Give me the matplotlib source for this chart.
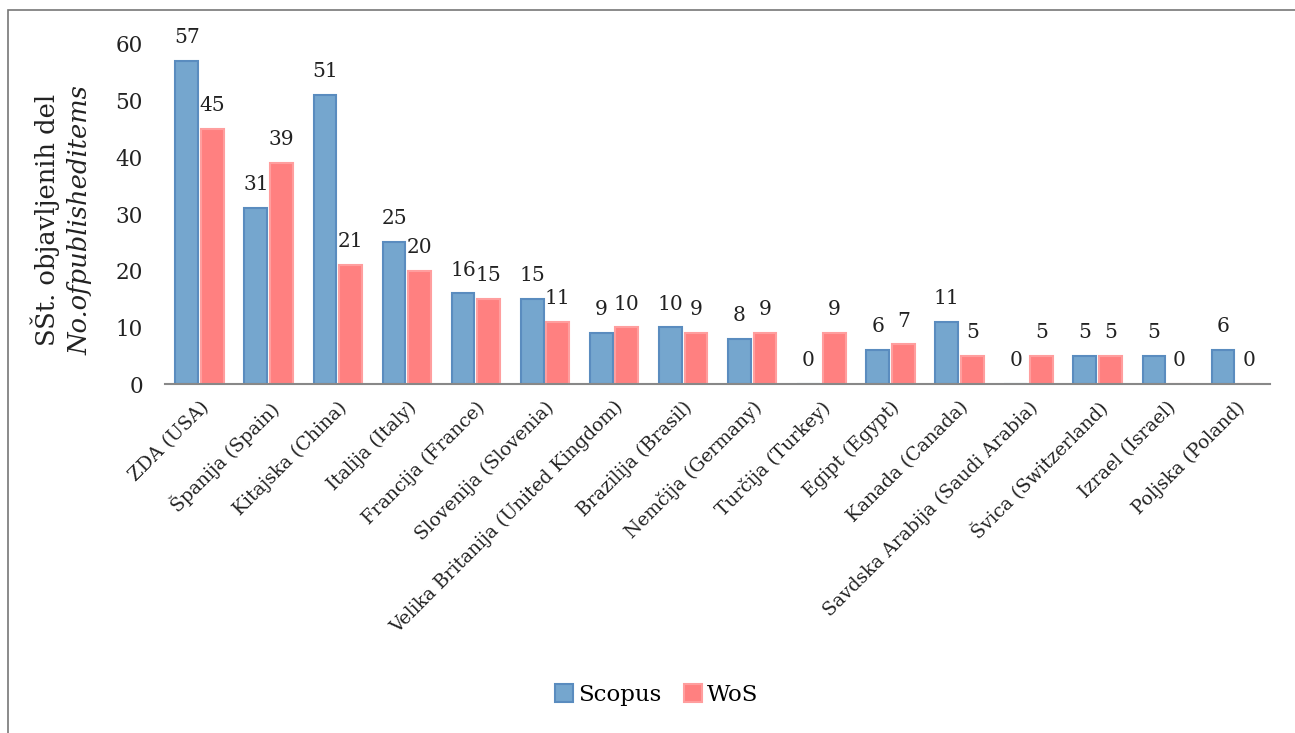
import matplotlib
matplotlib.use("Agg")
import matplotlib.pyplot as plt
import numpy as np
from matplotlib.patches import Rectangle

categories = ["ZDA (USA)", "Španija (Spain)", "Kitajska (China)", "Italija (Italy)",
              "Francija (France)", "Slovenija (Slovenia)", "Velika Britanija (United Kingdom)",
              "Brazilija (Brasil)", "Nemčija (Germany)", "Turčija (Turkey)", "Egipt (Egypt)",
              "Kanada (Canada)", "Savdska Arabija (Saudi Arabia)", "Švica (Switzerland)",
              "Izrael (Israel)", "Poljska (Poland)"]
scopus = [57, 31, 51, 25, 16, 15, 9, 10, 8, 0, 6, 11, 0, 5, 5, 6]
wos = [45, 39, 21, 20, 15, 11, 10, 9, 9, 9, 7, 5, 5, 5, 0, 0]
yticks = [0, 10, 20, 30, 40, 50, 60]

plt.rcParams['font.family'] = ['DejaVu Serif']
fig = plt.figure(figsize=(12.95, 7.33), dpi=100)
ax = fig.add_axes([0.1274, 0.476, 0.8536, 0.464])

x = np.arange(len(categories))
w = 0.33
off = 0.185
b1 = ax.bar(x - off, scopus, w, color='#75A6CE', edgecolor='#5A8CBF', linewidth=1.5, label='Scopus')
b2 = ax.bar(x + off, wos, w, color='#FF8080', edgecolor='#FF9E9E', linewidth=1.5, label='WoS')

for xi, v in zip(x, scopus):
    ax.annotate(str(v), (xi - off, v), xytext=(0, 10), textcoords='offset points',
                ha='center', va='bottom', fontsize=14.5, color='#222222')
for xi, v in zip(x, wos):
    ax.annotate(str(v), (xi + off, v), xytext=(0, 10), textcoords='offset points',
                ha='center', va='bottom', fontsize=14.5, color='#222222')

ax.set_xlim(-0.5, len(categories) - 0.5)
ax.set_ylim(0, 60)
ax.set_yticks(yticks)
ax.set_yticklabels([str(t) for t in yticks], fontsize=15.5, color='#222222')
ax.set_xticks(x)
ax.set_xticklabels(categories, rotation=45, ha='right', rotation_mode='anchor',
                   fontsize=13.5, color='#222222')
ax.tick_params(axis='y', length=0, pad=16)
ax.tick_params(axis='x', length=0, pad=10)
for s in ['top', 'right', 'left']:
    ax.spines[s].set_visible(False)
ax.spines['bottom'].set_color('#888888')
ax.spines['bottom'].set_linewidth(1.5)

fig.text(0.035, 0.70, "SŠt. objavljenih del", rotation=90, ha='center', va='center',
         fontsize=18.5, color='#222222')
fig.text(0.062, 0.70, "No.ofpublisheditems", rotation=90, ha='center', va='center',
         fontsize=18.5, style='italic', color='#222222')

leg = fig.legend(handles=[b1, b2], loc='center', bbox_to_anchor=(0.507, 0.052), ncol=2,
                 frameon=False, fontsize=16.5, handlelength=0.8, handleheight=0.8,
                 handletextpad=0.2, columnspacing=1.0)

fig.patches.append(Rectangle((8 / 1295, -0.01), 1.2, 1 - 10 / 733 + 0.01,
                             transform=fig.transFigure, fill=False,
                             edgecolor='#777777', linewidth=1.2))

fig.savefig("out.png", dpi=100)
